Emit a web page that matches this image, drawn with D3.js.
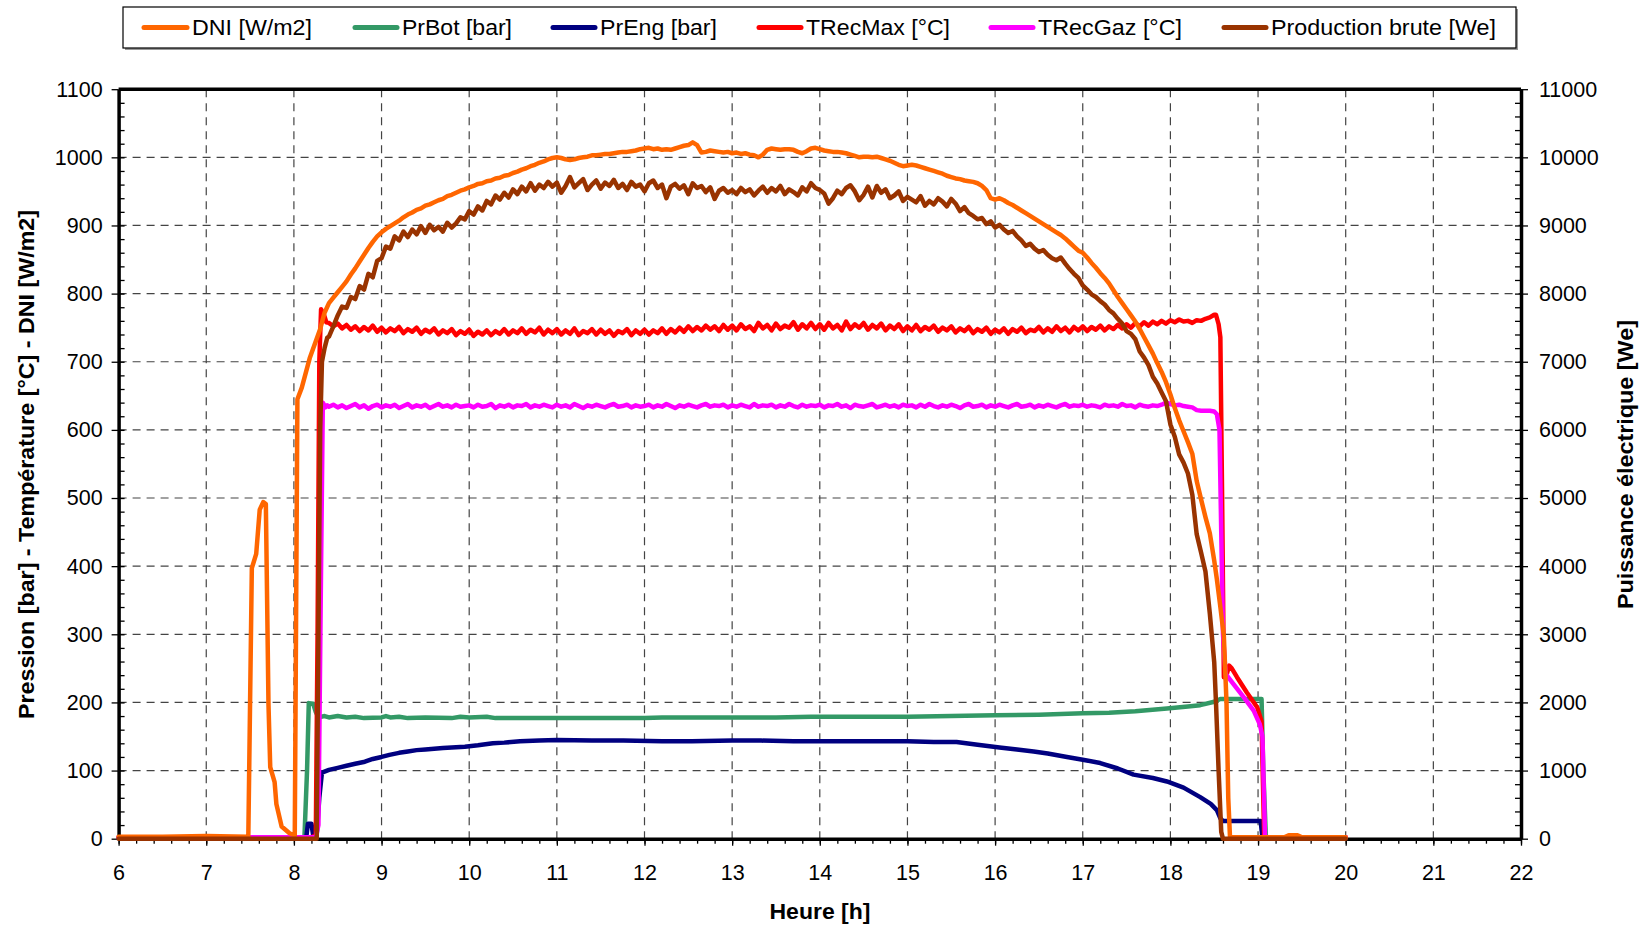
<!DOCTYPE html>
<html><head><meta charset="utf-8">
<script src="https://cdn.jsdelivr.net/npm/d3@7"></script>
<style>
body{margin:0;background:#fff}
svg{display:block}
text{font-family:"Liberation Sans",Arial,sans-serif;fill:#000}
</style>
</head><body>
<svg id="chart" width="1646" height="926"></svg>
<script>
// ---------------- DATA ----------------
const seriesNames = ["DNI [W/m2]","PrBot [bar]","PrEng [bar]","TRecMax [°C]","TRecGaz [°C]","Production brute [We]"];
const xTicks = [6,7,8,9,10,11,12,13,14,15,16,17,18,19,20,21,22];
const yLeftTicks = [0,100,200,300,400,500,600,700,800,900,1000,1100];
const yRightTicks = [0,1000,2000,3000,4000,5000,6000,7000,8000,9000,10000,11000];

// sampling instants (h) of the day-time record
const tDay = [
8.40,8.45,8.50,8.55,8.60,8.65,8.70,8.75,8.80,8.85,8.90,8.95,
9.00,9.05,9.10,9.15,9.20,9.25,9.30,9.35,9.40,9.45,9.50,9.55,9.60,9.65,9.70,9.75,9.80,9.85,9.90,9.95,
10.00,10.05,10.10,10.15,10.20,10.25,10.30,10.35,10.40,10.45,10.50,10.55,10.60,10.65,10.70,10.75,10.80,10.85,10.90,10.95,
11.00,11.05,11.10,11.15,11.20,11.25,11.30,11.35,11.40,11.45,11.50,11.55,11.60,11.65,11.70,11.75,11.80,11.85,11.90,11.95,
12.00,12.05,12.10,12.15,12.20,12.25,12.30,12.35,12.40,12.45,12.50,12.55,12.60,12.65,12.70,12.75,12.80,12.85,12.90,12.95,
13.00,13.05,13.10,13.15,13.20,13.25,13.30,13.35,13.40,13.45,13.50,13.55,13.60,13.65,13.70,13.75,13.80,13.85,13.90,13.95,
14.00,14.05,14.10,14.15,14.20,14.25,14.30,14.35,14.40,14.45,14.50,14.55,14.60,14.65,14.70,14.75,14.80,14.85,14.90,14.95,
15.00,15.05,15.10,15.15,15.20,15.25,15.30,15.35,15.40,15.45,15.50,15.55,15.60,15.65,15.70,15.75,15.80,15.85,15.90,15.95,
16.00,16.05,16.10,16.15,16.20,16.25,16.30,16.35,16.40,16.45,16.50,16.55,16.60,16.65,16.70,16.75,16.80,16.85,16.90,16.95,
17.00,17.05,17.10,17.15,17.20,17.25,17.30,17.35,17.40,17.45,17.50,17.55,17.60,17.65,17.70,17.75,17.80,17.85,17.90,17.95,
18.00,18.05,18.10,18.15,18.20,18.25,18.30,18.35,18.40,18.45,18.50];

// DNI [W/m2]
const dniHead = [[6,3],[6.5,3],[7,4],[7.48,3],[7.52,397],[7.57,418],[7.61,483],[7.65,494],[7.68,491],[7.71,197],[7.73,105],[7.78,83],[7.80,51],[7.86,18],[7.95,8],[8.01,5],[8.04,645],[8.09,662],[8.18,705],[8.30,748],[8.35,772]];
const dniDay = [
786,794,802,810,818,828,837,847,857,867,876,884,
890,895,899,903,907,912,916,919,923,925,929,931,934,937,939,943,945,948,951,953,
956,958,961,962,965,966,969,970,973,974,977,979,982,984,987,989,992,994,997,999,
1000,999,997,996,997,999,1000,1001,1003,1003,1004,1005,1005,1006,1007,1008,1008,1009,1010,1012,
1013,1014,1012,1013,1011,1012,1011,1013,1015,1017,1018,1022,1018,1007,1008,1010,1009,1008,1007,1008,
1006,1007,1005,1006,1004,1003,1000,1004,1011,1013,1012,1011,1012,1012,1011,1008,1006,1009,1013,1014,
1012,1010,1009,1008,1008,1007,1006,1004,1002,1000,1001,1001,1000,1001,999,997,995,992,989,987,
988,989,988,986,984,982,980,978,976,973,971,969,968,966,965,964,962,958,952,940,
938,940,937,933,930,926,922,918,914,910,906,902,898,894,890,886,881,875,869,863,
860,853,845,838,830,823,815,805,795,786,777,768,759,748,736,724,712,698,685,670,
652,632,614,598,582,565,525,498,472,448,408];
const dniTail = [[18.53,381],[18.57,340],[18.61,297],[18.64,200],[18.66,60],[18.68,2],[19.3,2],[19.35,5],[19.45,5],[19.5,2],[20.0,2]];

// PrBot [bar]
const prBot = [[6,1],[8.12,1],[8.15,100],[8.17,199],[8.22,198],[8.25,186],[8.28,178],[8.35,180],[8.4,178],[8.5,180],[8.6,178],[8.7,179],[8.8,177],[9.0,178],[9.05,180],[9.1,178],[9.2,179],[9.3,177],[9.5,178],[9.8,177],[9.9,179],[10.0,178],[10.2,179],[10.3,177],[11,177],[11.5,177],[12,177],[12.2,178],[12.5,178],[13,178],[13.5,178],[13.9,179],[14,179],[14.5,179],[15,179],[15.5,180],[16,181],[16.5,182],[17,184],[17.3,185],[17.6,187],[17.96,191],[18.2,194],[18.34,196],[18.5,201],[18.57,205],[19.04,205],[19.06,100],[19.09,1],[20,1]];

// PrEng [bar]
const prEng = [[6,1],[8.14,1],[8.16,22],[8.2,22],[8.22,5],[8.26,5],[8.29,60],[8.32,97],[8.4,101],[8.5,104],[8.6,107],[8.7,110],[8.81,113],[8.9,117],[9.0,120],[9.09,123],[9.2,126],[9.3,128],[9.4,130],[9.5,131],[9.6,132],[9.7,133],[9.8,134],[9.95,135],[10.1,137],[10.27,140],[10.4,141],[10.58,143],[10.8,144],[11.0,145],[11.4,144],[11.76,144],[12.2,143],[12.54,143],[13,144],[13.33,144],[13.7,143],[14,143],[14.5,143],[15,143],[15.3,142],[15.56,142],[15.8,138],[16.05,134],[16.25,131],[16.44,128],[16.6,125],[16.82,120],[17.0,116],[17.2,111],[17.4,103],[17.58,94],[17.8,89],[17.96,84],[18.15,75],[18.34,61],[18.46,51],[18.53,42],[18.57,30],[18.6,26],[19.03,26],[19.05,1],[20,1]];

// TRecMax [°C]
const tRecMaxHead = [[6,2],[8.2,2],[8.25,5],[8.27,300],[8.29,700],[8.31,777],[8.34,770],[8.37,758]];
const tRecMaxDay = [
757,752,756,749,754,747,752,745,751,746,753,744,
750,743,749,745,751,742,748,744,750,741,747,743,749,740,746,742,748,739,745,741,
747,738,744,740,746,739,745,741,748,740,746,742,749,741,747,743,750,740,747,742,
748,740,746,741,749,739,745,742,748,740,747,741,746,738,745,742,748,739,746,741,
747,740,746,742,749,741,748,743,750,744,752,745,751,746,753,747,752,745,754,747,
753,746,755,748,752,745,757,749,754,746,756,748,753,750,758,747,755,749,757,748,
755,747,757,749,754,746,759,748,755,750,757,747,754,749,756,746,753,748,755,745,
752,746,754,745,751,747,753,744,750,746,752,743,749,745,751,742,748,744,750,741,
747,743,749,741,748,744,750,742,747,745,751,743,749,744,752,745,750,743,751,746,
752,745,751,747,753,746,752,748,754,749,755,750,757,752,758,753,759,755,760,756,
761,758,762,759,760,757,761,760,763,765,769];
const tRecMaxTail = [[18.52,769],[18.55,755],[18.57,736],[18.59,500],[18.61,237],[18.64,240],[18.67,254],[18.70,250],[18.76,237],[18.87,215],[18.99,193],[19.04,172],[19.07,2],[20,2]];

// TRecGaz [°C]
const tRecGazHead = [[6,2],[8.25,2],[8.28,20],[8.31,400],[8.33,640],[8.36,633],[8.38,636]];
const tRecGazDay = [
634,637,633,636,632,635,638,633,636,631,635,637,
633,636,634,637,632,635,638,633,636,634,637,632,635,638,634,636,633,637,634,635,
636,633,637,634,635,638,632,636,634,637,633,636,635,638,633,636,634,637,635,633,
637,634,636,633,638,635,632,636,634,637,635,633,636,638,634,635,637,633,636,634,
635,637,633,636,634,638,635,632,636,634,637,635,633,636,638,634,636,635,637,633,
636,634,637,635,633,638,634,636,635,637,633,636,634,638,635,633,637,634,636,635,
637,633,636,635,638,634,636,632,637,635,634,636,638,633,635,637,634,636,633,637,
635,636,633,637,634,638,635,633,636,634,637,635,632,636,638,634,635,637,633,636,
634,637,635,633,636,638,634,635,637,633,636,634,637,635,633,636,638,634,636,635,
637,634,636,635,633,637,635,636,634,638,635,636,633,637,635,634,636,635,637,640,
638,636,637,635,634,633,629,628,628,628,627];
const tRecGazTail = [[18.53,623],[18.56,600],[18.58,450],[18.60,300],[18.63,242],[18.72,227],[18.84,207],[18.95,188],[19.02,168],[19.05,150],[19.08,2],[20,2]];

// Production brute [We]
const prodHead = [[6,0],[8.26,0],[8.28,3000],[8.30,6000],[8.32,7000],[8.35,7200],[8.38,7350]];
const prodDay = [
7370,7520,7680,7810,7790,7950,7920,8110,8060,8290,8240,8480,
8520,8690,8660,8840,8780,8910,8830,8940,8870,8990,8890,9010,8930,8980,8910,9040,8970,9030,9120,9090,
9210,9160,9280,9220,9360,9310,9440,9380,9480,9410,9530,9460,9570,9500,9620,9510,9600,9550,9640,9570,
9630,9480,9580,9710,9560,9620,9680,9520,9600,9660,9540,9630,9580,9670,9550,9610,9520,9640,9570,9600,
9500,9620,9660,9550,9600,9400,9570,9610,9540,9590,9460,9620,9550,9580,9490,9560,9390,9510,9550,9480,
9520,9460,9550,9490,9530,9440,9510,9570,9480,9550,9500,9580,9460,9530,9490,9440,9560,9500,9620,9550,
9520,9470,9320,9400,9510,9460,9550,9590,9500,9370,9450,9570,9410,9580,9480,9530,9400,9440,9500,9360,
9420,9380,9340,9430,9290,9360,9310,9400,9350,9280,9390,9320,9210,9270,9180,9140,9090,9110,9020,9060,
8970,9010,8940,8890,8920,8840,8780,8700,8730,8660,8610,8640,8570,8520,8490,8530,8440,8360,8290,8230,
8120,8060,7990,7950,7890,7840,7760,7710,7630,7560,7450,7410,7330,7150,7060,6950,6780,6680,6550,6420,
6080,5900,5640,5520,5360,5050,4470,4200,3920,3300,2590];
const prodTail = [[18.52,2000],[18.55,1000],[18.58,100],[18.60,0],[20.0,0]];

// ---------------- LAYOUT / STYLE ----------------
const W = 1646, H = 926;
const plot = {left:118.6, right:1521, top:89.2, bottom:838.7};
const colors = ["#FF6600","#339966","#000080","#FF0000","#FF00FF","#993300"];
const legendLayout = [
  {x1:144,x2:187,tx:192,tw:120},
  {x1:355,x2:397,tx:402,tw:110},
  {x1:553,x2:595,tx:600,tw:117},
  {x1:759,x2:801,tx:806,tw:144},
  {x1:991,x2:1033,tx:1038,tw:144},
  {x1:1224,x2:1266,tx:1271,tw:225}
];

const svg = d3.select("#chart");
svg.append("rect").attr("width",W).attr("height",H).attr("fill","#fff");

const x = d3.scaleLinear().domain([6,22]).range([plot.left, plot.right]);
const yL = d3.scaleLinear().domain([0,1100]).range([plot.bottom, plot.top]);
const yR = d3.scaleLinear().domain([0,11000]).range([plot.bottom, plot.top]);

// grid
const grid = svg.append("g");
grid.selectAll("line.v").data(xTicks.slice(1,-1)).join("line")
  .attr("x1",d=>x(d)).attr("x2",d=>x(d)).attr("y1",plot.top).attr("y2",plot.bottom)
  .attr("stroke","#444").attr("stroke-width",1.2).attr("stroke-dasharray","8,6");
grid.selectAll("line.h").data(yLeftTicks.slice(1,-1)).join("line")
  .attr("y1",d=>yL(d)).attr("y2",d=>yL(d)).attr("x1",plot.left).attr("x2",plot.right)
  .attr("stroke","#444").attr("stroke-width",1.2).attr("stroke-dasharray","8,6");

// axes
function styleAxis(g){
  g.selectAll(".domain").attr("stroke","#000").attr("stroke-width",3.5);
  g.selectAll(".tick line").attr("stroke","#000").attr("stroke-width",1.3);
  g.selectAll("text").attr("font-size",21.5).attr("font-family",'"Liberation Sans",Arial,sans-serif').attr("fill","#000");
}
// minor ticks
svg.append("g").attr("transform",`translate(${plot.left},0)`)
  .call(d3.axisRight(yL).tickValues(d3.range(0,1101,20)).tickSize(6).tickSizeOuter(0).tickFormat(""))
  .call(g=>g.select(".domain").remove()).call(styleAxis);
svg.append("g").attr("transform",`translate(${plot.right},0)`)
  .call(d3.axisLeft(yR).tickValues(d3.range(0,11001,200)).tickSize(6).tickSizeOuter(0).tickFormat(""))
  .call(g=>g.select(".domain").remove()).call(styleAxis);
svg.append("g").attr("transform",`translate(0,${plot.bottom})`)
  .call(d3.axisBottom(x).tickValues(d3.range(6,22.001,0.2)).tickSize(5).tickSizeOuter(0).tickFormat(""))
  .call(g=>g.select(".domain").remove()).call(styleAxis);

// top frame
svg.append("line").attr("x1",plot.left).attr("x2",plot.right).attr("y1",plot.top).attr("y2",plot.top)
  .attr("stroke","#000").attr("stroke-width",3.5);

svg.append("g").attr("transform",`translate(${plot.left},0)`)
  .call(d3.axisLeft(yL).tickValues(yLeftTicks).tickSize(7).tickSizeOuter(0).tickPadding(9).tickFormat(d3.format("d")))
  .call(styleAxis);
svg.append("g").attr("transform",`translate(${plot.right},0)`)
  .call(d3.axisRight(yR).tickValues(yRightTicks).tickSize(7).tickSizeOuter(0).tickPadding(11).tickFormat(d3.format("d")))
  .call(styleAxis);
svg.append("g").attr("transform",`translate(0,${plot.bottom})`)
  .call(d3.axisBottom(x).tickValues(xTicks).tickSize(7).tickSizeOuter(0).tickPadding(19).tickFormat(d3.format("d")))
  .call(styleAxis);

// series
function build(head, day, tail){ return head.concat(tDay.map((t,i)=>[t,day[i]]), tail); }
const series = [
  {i:0, data: build(dniHead, dniDay, dniTail), y:yL},
  {i:1, data: prBot, y:yL},
  {i:2, data: prEng, y:yL},
  {i:3, data: build(tRecMaxHead, tRecMaxDay, tRecMaxTail), y:yL},
  {i:4, data: build(tRecGazHead, tRecGazDay, tRecGazTail), y:yL},
  {i:5, data: build(prodHead, prodDay, prodTail), y:yR}
];
const drawOrder = [1,2,3,4,0,5];
const lines = svg.append("g");
drawOrder.forEach(k=>{
  const s = series[k];
  const line = d3.line().x(d=>x(d[0])).y(d=>s.y(d[1]));
  lines.append("path").datum(s.data).attr("d",line)
    .attr("fill","none").attr("stroke",colors[s.i]).attr("stroke-width",4.5)
    .attr("stroke-linejoin","round").attr("stroke-linecap","round");
});

// axis titles
svg.append("text").attr("transform","translate(26,464.5) rotate(-90)")
  .attr("text-anchor","middle").attr("dominant-baseline","central")
  .attr("font-weight","bold").attr("font-size",22).attr("textLength",509).attr("lengthAdjust","spacingAndGlyphs")
  .text("Pression [bar] - Température [°C] - DNI [W/m2]");
svg.append("text").attr("transform","translate(1625,464.5) rotate(-90)")
  .attr("text-anchor","middle").attr("dominant-baseline","central")
  .attr("font-weight","bold").attr("font-size",22).attr("textLength",289).attr("lengthAdjust","spacingAndGlyphs")
  .text("Puissance électrique [We]");
svg.append("text").attr("x",820).attr("y",911)
  .attr("text-anchor","middle").attr("dominant-baseline","central")
  .attr("font-weight","bold").attr("font-size",22).attr("textLength",101).attr("lengthAdjust","spacingAndGlyphs")
  .text("Heure [h]");

// legend
const lg = svg.append("g");
lg.append("rect").attr("x",125).attr("y",9).attr("width",1393).attr("height",41).attr("fill","#999");
lg.append("rect").attr("x",123).attr("y",7).attr("width",1393).attr("height",41).attr("fill","#fff").attr("stroke","#000").attr("stroke-width",1.2);
seriesNames.forEach((name,k)=>{
  const L = legendLayout[k];
  lg.append("line").attr("x1",L.x1).attr("x2",L.x2).attr("y1",27.5).attr("y2",27.5)
    .attr("stroke",colors[k]).attr("stroke-width",5).attr("stroke-linecap","round");
  lg.append("text").attr("x",L.tx).attr("y",27.5).attr("dominant-baseline","central")
    .attr("font-size",22).attr("textLength",L.tw).attr("lengthAdjust","spacingAndGlyphs").text(name);
});
</script>
</body></html>
